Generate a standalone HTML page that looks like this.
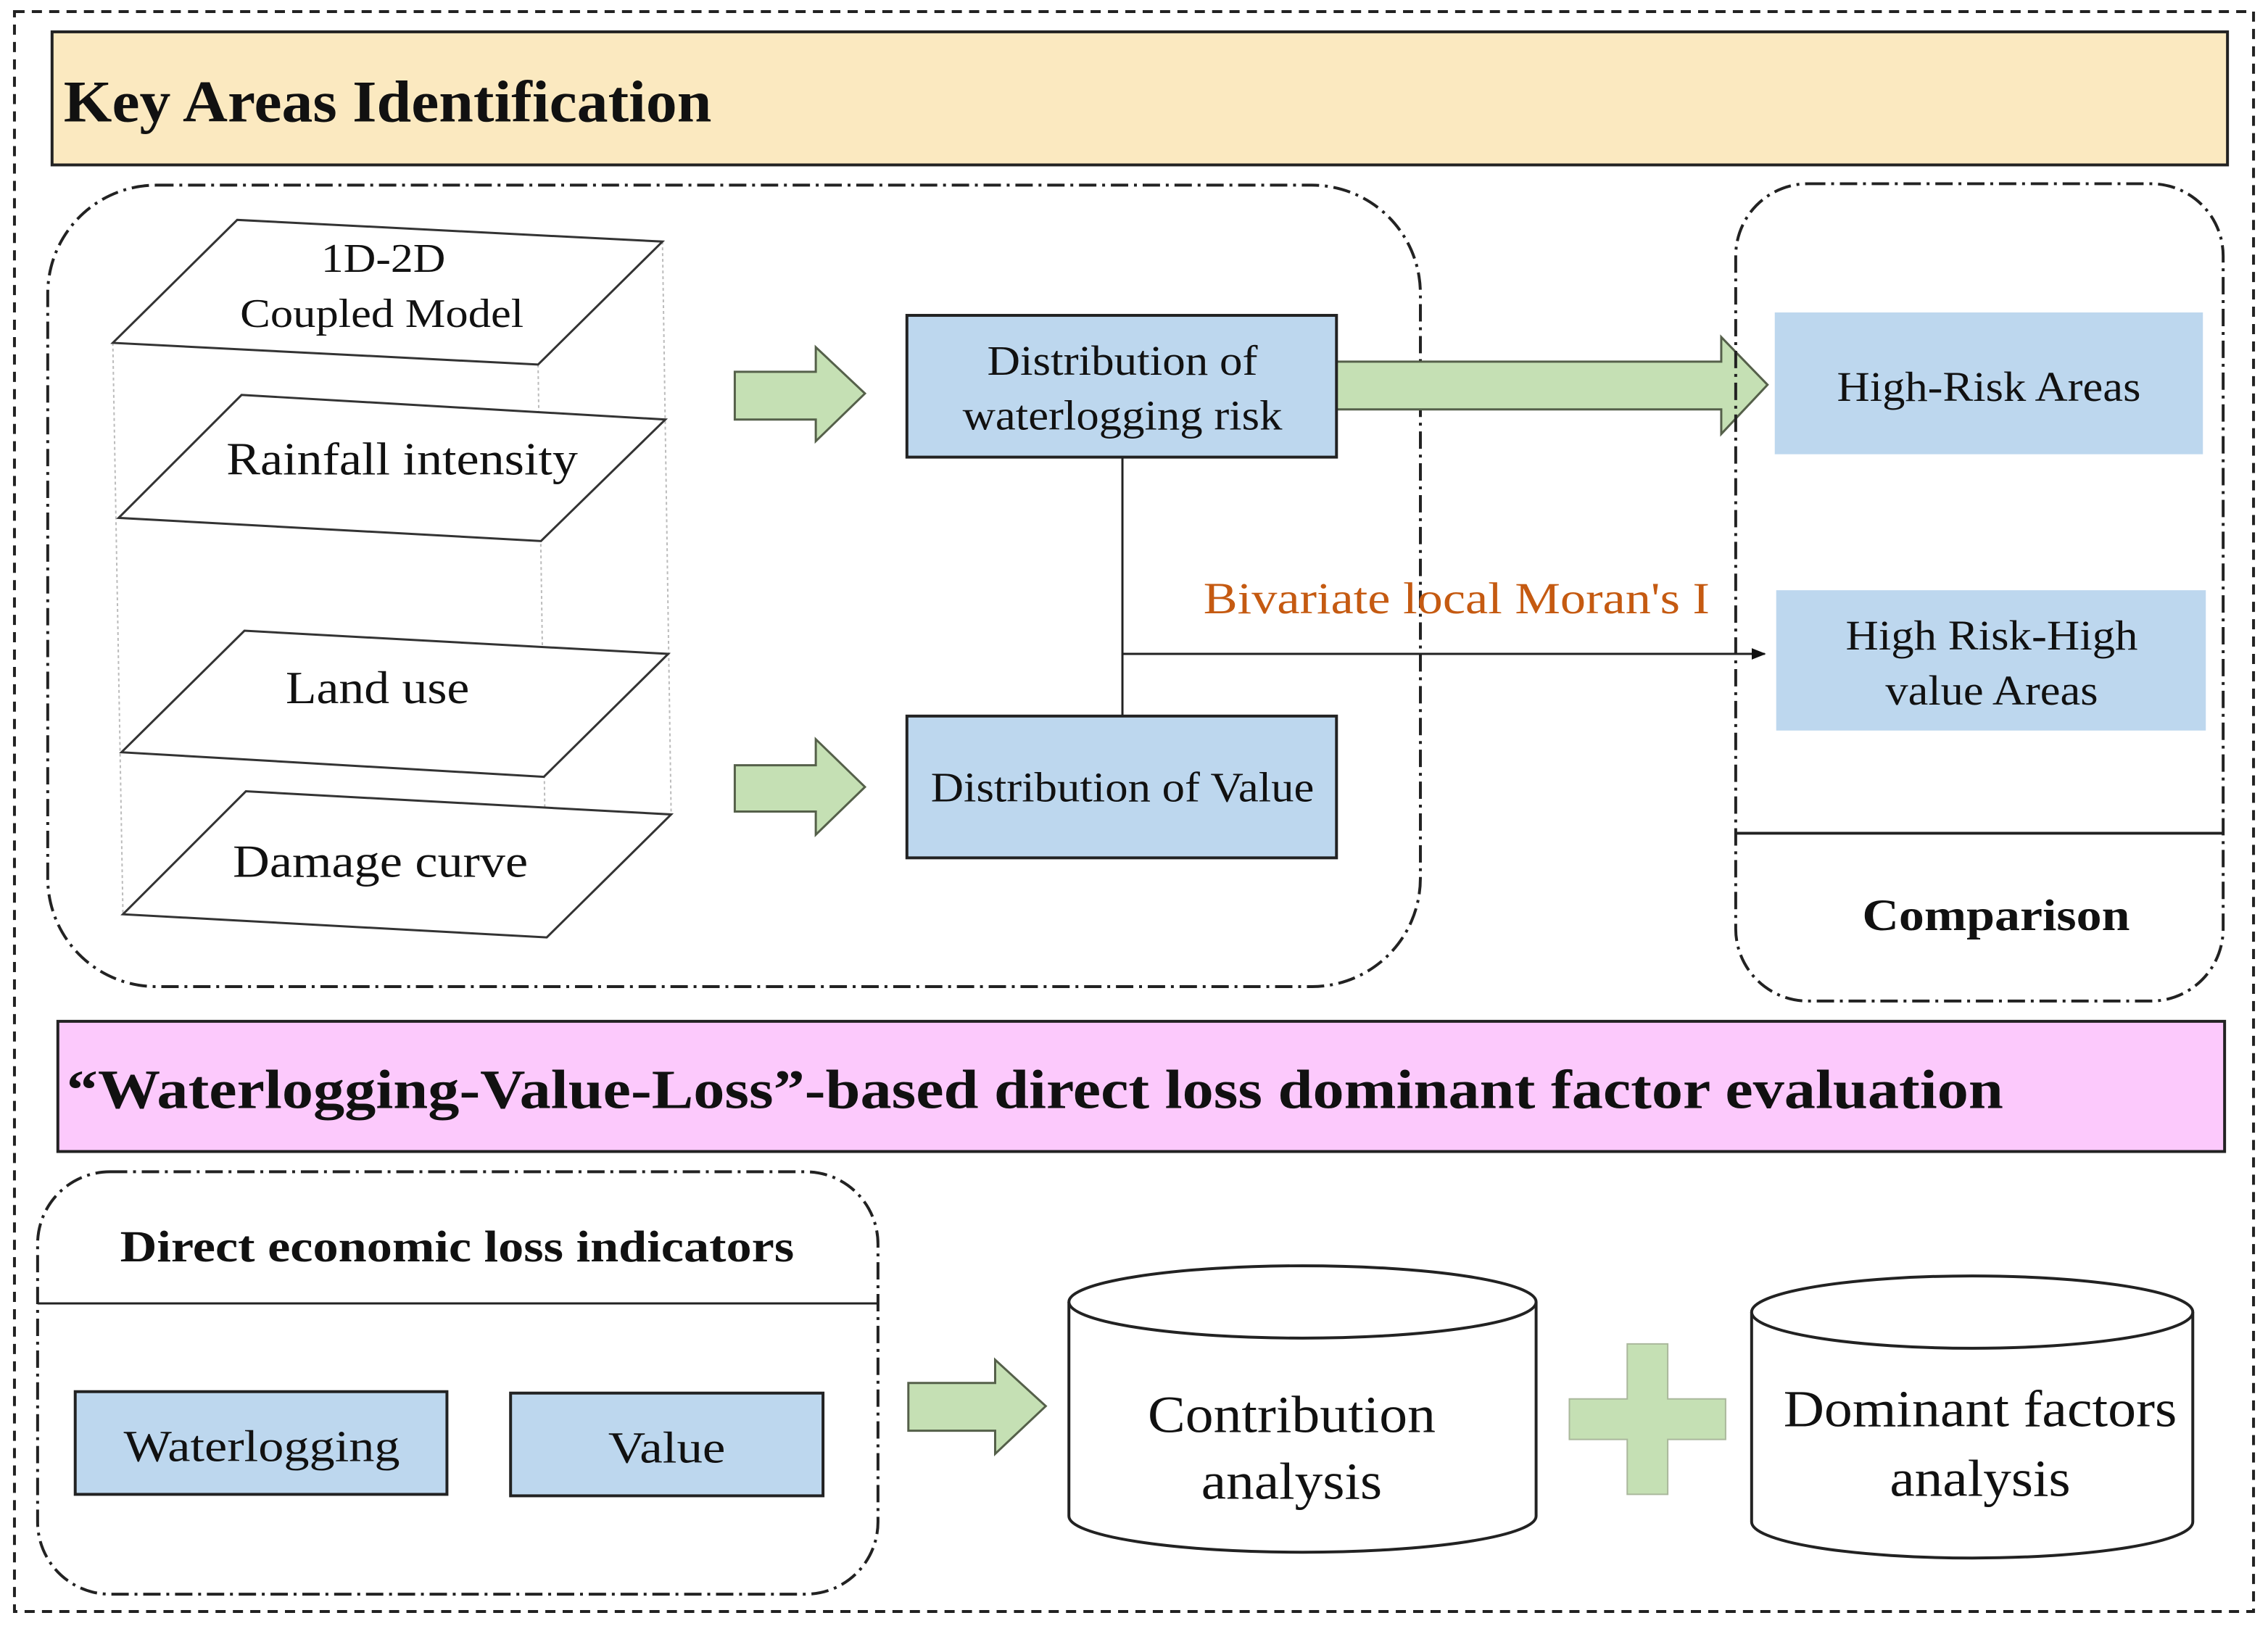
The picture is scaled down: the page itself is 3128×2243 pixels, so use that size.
<!DOCTYPE html>
<html><head><meta charset="utf-8"><style>
html,body{margin:0;padding:0;background:#fff;}
svg{display:block;}
text{font-family:"Liberation Serif",serif;fill:#111;}
</style></head><body>
<svg width="3128" height="2243" viewBox="0 0 1568 1124" preserveAspectRatio="none" xmlns="http://www.w3.org/2000/svg">
<defs>
<marker id="ah" markerWidth="10" markerHeight="8" refX="9" refY="4" orient="auto" markerUnits="userSpaceOnUse"><path d="M0,0 L10,4 L0,8 Z" fill="#111"/></marker>
</defs>
<rect x="10" y="8" width="1548" height="1106" fill="none" stroke="#222" stroke-width="2" stroke-dasharray="7,5"/>
<rect x="36" y="22" width="1504" height="92" fill="#fbe9c0" stroke="#222" stroke-width="2"/>
<text x="44" y="84" font-size="41" font-weight="bold" textLength="448" lengthAdjust="spacingAndGlyphs">Key Areas Identification</text>

<rect x="33" y="128" width="949" height="554" rx="75" fill="none" stroke="#222" stroke-width="2" stroke-dasharray="12,4,2,4"/>
<g stroke="#bbb" stroke-width="1" stroke-dasharray="2,2">
<line x1="78" y1="237" x2="85" y2="632"/><line x1="458" y1="167" x2="464" y2="563"/><line x1="372" y1="252" x2="378" y2="648"/>
</g>
<g fill="#fff" stroke="#333" stroke-width="1.5">
<polygon points="78,237 164,152 458,167 372,252"/>
<polygon points="82,358 167,273 460,290 374,374"/>
<polygon points="84,520 169,436 462,452 376,537"/>
<polygon points="85,632 170,547 464,563 378,648"/>
</g>
<text x="265" y="188" font-size="28" text-anchor="middle" textLength="86" lengthAdjust="spacingAndGlyphs">1D-2D</text>
<text x="264" y="226" font-size="28" text-anchor="middle" textLength="196" lengthAdjust="spacingAndGlyphs">Coupled Model</text>
<text x="278" y="328" font-size="32" text-anchor="middle" textLength="243" lengthAdjust="spacingAndGlyphs">Rainfall intensity</text>
<text x="261" y="486" font-size="32" text-anchor="middle" textLength="127" lengthAdjust="spacingAndGlyphs">Land use</text>
<text x="263" y="606" font-size="32" text-anchor="middle" textLength="204" lengthAdjust="spacingAndGlyphs">Damage curve</text>

<g fill="#c5e0b4" stroke="#55604a" stroke-width="1.5">
<polygon points="508,257 564,257 564,240 598,272 564,305 564,290 508,290"/>
<polygon points="508,529 564,529 564,511 598,544 564,577 564,561 508,561"/>
<polygon points="905,250 1190,250 1190,233 1222,266 1190,300 1190,283 905,283"/>
<polygon points="628,956 688,956 688,940 723,972 688,1005 688,989 628,989"/>
</g>
<rect x="627" y="218" width="297" height="98" fill="#bdd7ee" stroke="#222" stroke-width="2"/>
<text x="776" y="259" font-size="29" text-anchor="middle" textLength="187" lengthAdjust="spacingAndGlyphs">Distribution of</text>
<text x="776" y="297" font-size="29" text-anchor="middle" textLength="221" lengthAdjust="spacingAndGlyphs">waterlogging risk</text>
<rect x="627" y="495" width="297" height="98" fill="#bdd7ee" stroke="#222" stroke-width="2"/>
<text x="776" y="554" font-size="29" text-anchor="middle" textLength="265" lengthAdjust="spacingAndGlyphs">Distribution of Value</text>
<line x1="776" y1="316" x2="776" y2="495" stroke="#222" stroke-width="1.5"/>
<line x1="776" y1="452" x2="1220" y2="452" stroke="#222" stroke-width="1.5" marker-end="url(#ah)"/>
<text x="832" y="424" font-size="31" style="fill:#c55a11" textLength="350" lengthAdjust="spacingAndGlyphs">Bivariate local Moran's I</text>

<rect x="1200" y="127" width="337" height="565" rx="50" fill="none" stroke="#222" stroke-width="2" stroke-dasharray="12,4,2,4"/>
<line x1="1200" y1="576" x2="1537" y2="576" stroke="#222" stroke-width="2"/>
<text x="1380" y="643" font-size="31" font-weight="bold" text-anchor="middle" textLength="185" lengthAdjust="spacingAndGlyphs">Comparison</text>
<rect x="1227" y="216" width="296" height="98" fill="#bdd7ee"/>
<text x="1375" y="277" font-size="29" text-anchor="middle" textLength="210" lengthAdjust="spacingAndGlyphs">High-Risk Areas</text>
<rect x="1228" y="408" width="297" height="97" fill="#bdd7ee"/>
<text x="1377" y="449" font-size="29" text-anchor="middle" textLength="202" lengthAdjust="spacingAndGlyphs">High Risk-High</text>
<text x="1377" y="487" font-size="29" text-anchor="middle" textLength="147" lengthAdjust="spacingAndGlyphs">value Areas</text>

<rect x="40" y="706" width="1498" height="90" fill="#fcc9fc" stroke="#222" stroke-width="2"/>
<text x="46" y="766" font-size="38" font-weight="bold" textLength="1339" lengthAdjust="spacingAndGlyphs">“Waterlogging-Value-Loss”-based direct loss dominant factor evaluation</text>

<rect x="26" y="810" width="581" height="292" rx="50" fill="none" stroke="#222" stroke-width="2" stroke-dasharray="12,4,2,4"/>
<line x1="26" y1="901" x2="607" y2="901" stroke="#222" stroke-width="1.5"/>
<text x="316" y="872" font-size="31" font-weight="bold" text-anchor="middle" textLength="466" lengthAdjust="spacingAndGlyphs">Direct economic loss indicators</text>
<rect x="52" y="962" width="257" height="71" fill="#bdd7ee" stroke="#222" stroke-width="2"/>
<text x="181" y="1010" font-size="31" text-anchor="middle" textLength="191" lengthAdjust="spacingAndGlyphs">Waterlogging</text>
<rect x="353" y="963" width="216" height="71" fill="#bdd7ee" stroke="#222" stroke-width="2"/>
<text x="461" y="1011" font-size="31" text-anchor="middle" textLength="81" lengthAdjust="spacingAndGlyphs">Value</text>

<g fill="#fff" stroke="#222" stroke-width="2">
<path d="M739,900 L739,1048 A161.5,25 0 0 0 1062,1048 L1062,900"/>
<ellipse cx="900.5" cy="900" rx="161.5" ry="25"/>
<path d="M1211,907 L1211,1052 A152.5,25 0 0 0 1516,1052 L1516,907"/>
<ellipse cx="1363.5" cy="907" rx="152.5" ry="25"/>
</g>
<text x="893" y="990" font-size="36" text-anchor="middle" textLength="199" lengthAdjust="spacingAndGlyphs">Contribution</text>
<text x="893" y="1036" font-size="36" text-anchor="middle" textLength="125" lengthAdjust="spacingAndGlyphs">analysis</text>
<text x="1369" y="986" font-size="36" text-anchor="middle" textLength="272" lengthAdjust="spacingAndGlyphs">Dominant factors</text>
<text x="1369" y="1034" font-size="36" text-anchor="middle" textLength="125" lengthAdjust="spacingAndGlyphs">analysis</text>
<polygon points="1125,929 1153,929 1153,967 1193,967 1193,995 1153,995 1153,1033 1125,1033 1125,995 1085,995 1085,967 1125,967" fill="#c5e0b4" stroke="#aab89c" stroke-width="1"/>
</svg>
</body></html>
